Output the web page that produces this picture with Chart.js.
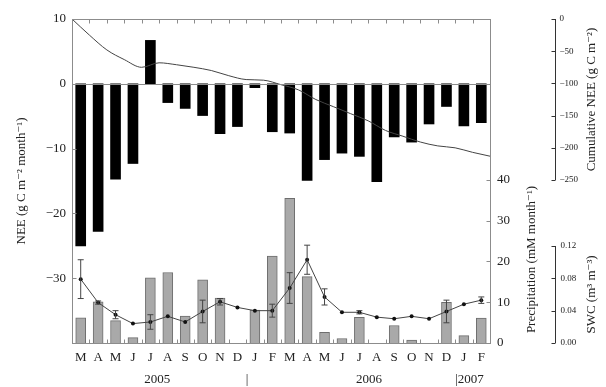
<!DOCTYPE html>
<html>
<head>
<meta charset="utf-8">
<script src="https://cdn.jsdelivr.net/npm/chart.js@4/dist/chart.umd.min.js"></script>
<style>
  html, body { margin: 0; padding: 0; background: #fff; }
  #wrap { width: 606px; height: 387px; }
</style>
</head>
<body>
<div id="wrap"><canvas id="c" width="606" height="387"></canvas></div>
<script>
// Monthly series, March 2005 – February 2007
const months = ['M','A','M','J','J','A','S','O','N','D','J','F','M','A','M','J','J','A','S','O','N','D','J','F'];

// Monthly net ecosystem exchange (g C m-2 month-1)
const nee = [-25.0, -22.8, -14.7, -12.3, 6.7, -2.9, -3.8, -4.9, -7.7, -6.6, -0.6, -7.4,
             -7.6, -14.9, -11.7, -10.7, -11.2, -15.1, -8.2, -9.0, -6.2, -3.5, -6.5, -6.0];

// Cumulative NEE at each month boundary (g C m-2), 25 points
const cumNee = [0, -25, -48, -63, -75, -68, -71, -75, -80, -88, -94, -95, -102,
                -110, -125, -136, -147, -158, -173, -182, -191, -197, -200, -207, -213];

// Monthly precipitation (mm month-1)
const precip = [6.2, 10.1, 5.5, 1.3, 16.0, 17.3, 6.6, 15.5, 11.0, 0, 8.1, 21.3,
                35.5, 16.3, 2.6, 1.1, 6.3, 0, 4.3, 0.7, 0, 10.0, 1.8, 6.1];

// Soil water content (m3 m-3) and its standard deviation
const swc = [0.079, 0.050, 0.035, 0.024, 0.026, 0.033, 0.026, 0.039, 0.051, 0.044, 0.040, 0.040,
             0.068, 0.103, 0.057, 0.038, 0.038, 0.032, 0.030, 0.033, 0.030, 0.039, 0.048, 0.053];
const swcErr = [0.024, 0.002, 0.005, 0, 0.009, 0, 0, 0.014, 0.004, 0, 0, 0.008,
                0.019, 0.018, 0.010, 0, 0.002, 0, 0, 0, 0, 0.014, 0, 0.004];

// Tick values for each axis
const neeTicks = [10, 0, -10, -20, -30];
const precipTicks = [0, 10, 20, 30, 40];
const cumTicks = [0, -50, -100, -150, -200, -250];
const swcTicks = [0, 0.04, 0.08, 0.12];

// Year captions under the month letters (position in month-boundary units)
const yearNames = ['2005', '|', '2006', '|2007'];
const yearPos = [4.9, 10.05, 17.05, 22.0];
const yearAlign = ['center', 'center', 'center', 'left'];

const SERIF = '"Liberation Serif", "DejaVu Serif", serif';
const INK = '#222';
const FRAME = '#8c8c8c';
const minus = v => (v < 0 ? '\u2212' + Math.abs(v) : String(v));

const sideAxes = {
  id: 'sideAxes',
  afterDatasetsDraw(chart) {
    const ctx = chart.ctx;
    const ca = chart.chartArea;
    const x = chart.scales.x, xc = chart.scales.xc;
    const yN = chart.scales.yN, yP = chart.scales.yP, yC = chart.scales.yC, yS = chart.scales.yS;
    ctx.save();

    // zero line of NEE
    ctx.strokeStyle = FRAME; ctx.lineWidth = 1;
    const y0 = Math.round(yN.getPixelForValue(0)) + 0.5;
    ctx.beginPath(); ctx.moveTo(ca.left, y0); ctx.lineTo(ca.right, y0); ctx.stroke();

    // SWC error bars
    ctx.strokeStyle = '#444'; ctx.lineWidth = 1;
    swc.forEach((v, i) => {
      const e = swcErr[i];
      if (!e) return;
      const px = x.getPixelForValue(i);
      const ya = yS.getPixelForValue(v + e), yb = yS.getPixelForValue(v - e);
      ctx.beginPath();
      ctx.moveTo(px, ya); ctx.lineTo(px, yb);
      ctx.moveTo(px - 3, ya); ctx.lineTo(px + 3, ya);
      ctx.moveTo(px - 3, yb); ctx.lineTo(px + 3, yb);
      ctx.stroke();
    });

    // frame
    ctx.strokeStyle = FRAME; ctx.lineWidth = 1;
    const L = Math.round(ca.left) + 0.5, R = Math.round(ca.right) + 0.5;
    const T = Math.round(ca.top) + 0.5, B = Math.round(ca.bottom) + 0.5;
    ctx.strokeRect(L, T, R - L, B - T);

    // month boundary ticks (inward) on top and bottom
    ctx.beginPath();
    for (let i = 1; i < months.length; i++) {
      const px = Math.round(xc.getPixelForValue(i)) + 0.5;
      ctx.moveTo(px, T); ctx.lineTo(px, T + 4);
      ctx.moveTo(px, B); ctx.lineTo(px, B - 4);
    }
    // NEE ticks on the left (inward)
    neeTicks.forEach(v => {
      const py = Math.round(yN.getPixelForValue(v)) + 0.5;
      ctx.moveTo(L, py); ctx.lineTo(L + 4, py);
    });
    // precipitation ticks on the right (inward)
    precipTicks.forEach(v => {
      const py = Math.round(yP.getPixelForValue(v)) + 0.5;
      ctx.moveTo(R, py); ctx.lineTo(R - 4, py);
    });
    ctx.stroke();

    ctx.fillStyle = INK;
    // precipitation labels
    ctx.font = '13px ' + SERIF;
    ctx.textAlign = 'left'; ctx.textBaseline = 'middle';
    precipTicks.forEach(v => ctx.fillText(String(v), ca.right + 7, yP.getPixelForValue(v)));

    // cumulative NEE axis
    const cx = 555.5;
    ctx.strokeStyle = '#333';
    ctx.beginPath();
    ctx.moveTo(cx, yC.getPixelForValue(0)); ctx.lineTo(cx, yC.getPixelForValue(-250));
    cumTicks.forEach(v => {
      const py = Math.round(yC.getPixelForValue(v)) + 0.5;
      ctx.moveTo(cx - 4, py); ctx.lineTo(cx, py);
    });
    // SWC axis
    ctx.moveTo(cx, yS.getPixelForValue(0.12)); ctx.lineTo(cx, yS.getPixelForValue(0));
    swcTicks.forEach(v => {
      const py = Math.round(yS.getPixelForValue(v)) + 0.5;
      ctx.moveTo(cx - 4, py); ctx.lineTo(cx, py);
    });
    ctx.stroke();

    ctx.font = '9px ' + SERIF;
    cumTicks.forEach(v => ctx.fillText(minus(v), cx + 4, yC.getPixelForValue(v)));
    swcTicks.forEach(v => ctx.fillText(v.toFixed(2), cx + 5, yS.getPixelForValue(v)));

    // rotated axis titles on the right
    const vtitle = (txt, px, py) => {
      ctx.save();
      ctx.translate(px, py); ctx.rotate(-Math.PI / 2);
      ctx.textAlign = 'center'; ctx.textBaseline = 'middle';
      ctx.font = '13px ' + SERIF;
      ctx.fillText(txt, 0, 0);
      ctx.restore();
    };
    vtitle('Precipitation (mM month\u207B\u00B9)', 532, (yP.getPixelForValue(0) + yP.getPixelForValue(40)) / 2 - 2);
    vtitle('Cumulative NEE (g C m\u207B\u00B2)', 592, (yC.getPixelForValue(0) + yC.getPixelForValue(-250)) / 2);
    vtitle('SWC (m\u00B3 m\u207B\u00B3)', 592, (yS.getPixelForValue(0) + yS.getPixelForValue(0.12)) / 2);

    // year captions
    ctx.font = '13px ' + SERIF;
    ctx.textBaseline = 'middle';
    yearNames.forEach((t, i) => {
      ctx.textAlign = yearAlign[i];
      ctx.fillText(t, xc.getPixelForValue(yearPos[i]), 380);
    });
    ctx.restore();
  }
};

new Chart(document.getElementById('c'), {
  type: 'bar',
  data: {
    labels: months,
    datasets: [
      {
        type: 'line', label: 'SWC', data: swc, yAxisID: 'yS', xAxisID: 'x',
        borderColor: '#444', borderWidth: 1, pointRadius: 2, pointBackgroundColor: '#111',
        pointBorderColor: '#111', pointBorderWidth: 0, tension: 0, order: 0
      },
      {
        type: 'line', label: 'Cumulative NEE', data: cumNee.map((v, i) => ({ x: i, y: v })),
        xAxisID: 'xc', yAxisID: 'yC', borderColor: '#444', borderWidth: 1, pointRadius: 0,
        cubicInterpolationMode: 'monotone', order: 1
      },
      {
        label: 'NEE', data: nee, yAxisID: 'yN', xAxisID: 'x', backgroundColor: '#000',
        barThickness: 10, grouped: false, order: 2
      },
      {
        label: 'Precipitation', data: precip, yAxisID: 'yP', xAxisID: 'x',
        backgroundColor: '#a9a9a9', borderColor: '#6e6e6e', borderWidth: 1,
        barThickness: 10, grouped: false, order: 3
      }
    ]
  },
  options: {
    responsive: false,
    animation: false,
    layout: { padding: { top: 19, right: 116, left: 0, bottom: 0 } },
    plugins: { legend: { display: false }, tooltip: { enabled: false } },
    scales: {
      x: {
        type: 'category', offset: true,
        grid: { display: false, drawTicks: false }, border: { display: false },
        ticks: { font: { family: SERIF, size: 13 }, color: INK, padding: 7, maxRotation: 0, autoSkip: false },
        afterFit(s) { s.height = 44; }
      },
      xc: { type: 'linear', position: 'bottom', min: 0, max: 24, offset: false, grid: { offset: false }, display: false },
      yN: {
        type: 'linear', position: 'left', min: -40, max: 10,
        afterBuildTicks(s) { s.ticks = neeTicks.map(v => ({ value: v })); },
        grid: { display: false, drawTicks: false }, border: { display: false },
        ticks: { font: { family: SERIF, size: 13 }, color: INK, padding: 6, callback: v => minus(v) },
        title: {
          display: true, text: 'NEE (g C m\u207B\u00B2 month\u207B\u00B9)',
          font: { family: SERIF, size: 13 }, color: INK, padding: { top: 14, bottom: 0 }
        },
        afterFit(s) { s.width = 72; }
      },
      yP: { type: 'linear', display: false, min: 0, max: 79.5 },
      yC: { type: 'linear', display: false, min: -503, max: 0 },
      yS: { type: 'linear', display: false, min: 0, max: 0.4008 }
    }
  },
  plugins: [sideAxes]
});
</script>
</body>
</html>
